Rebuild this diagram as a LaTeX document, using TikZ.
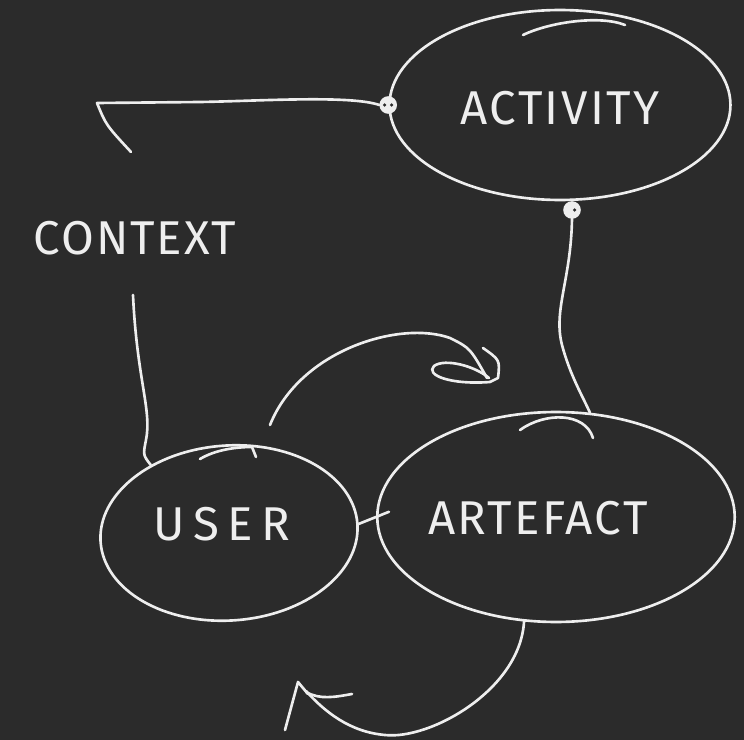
\documentclass[tikz,border=0pt]{standalone}
\usepackage{fontspec}
\setmainfont{Fira Sans}
\usepackage{xcolor}
\usepackage{tikz}
\usetikzlibrary{shapes,positioning}
\definecolor{board}{RGB}{43,43,43}
\definecolor{chalk}{RGB}{238,238,238}

\begin{document}
\begin{tikzpicture}
            [
                x=0.02cm, y=-0.02cm,
                blob/.style={ellipse, draw=chalk, line width=1.5pt, inner sep=0pt},
                stroke/.style={draw=chalk, line width=1.5pt, line cap=round, line join=round},
                knob/.style={circle, draw=chalk, fill=chalk, line width=1pt, inner sep=0pt, minimum size=9pt},
                handtext/.style={text=chalk, inner sep=0pt, font=\fontsize{27}{27}\selectfont},
            ]

            %% BOARD
            \fill[board] (0,0) rectangle (744,740);
            \useasboundingbox (0,0) rectangle (744,740);

            %% ELLIPSES
            \node[blob, minimum width=6.82cm, minimum height=3.8cm] (activity) at (560,105) {};
            \node[blob, minimum width=5.15cm, minimum height=3.5cm, rotate=4] (user) at (229,533) {};
            \node[blob, minimum width=7.15cm, minimum height=4.2cm] (artefact) at (556,517) {};

            %% second strokes over the tops
            \draw[stroke] (523,35) .. controls (550,22) and (600,15) .. (625,25);
            \draw[stroke] (200,459) .. controls (215,450) and (235,447) .. (252,447) -- (256,457);
            \draw[stroke] (520,430) .. controls (545,412) and (585,412) .. (593,438);

            %% TEXTS
            \node[handtext] (activitytext) at (560,108) {\addfontfeatures{LetterSpace=5}ACTIVITY};
            \node[handtext] (usertext) at (222,524) {\addfontfeatures{LetterSpace=18}USER};
            \node[handtext] (artefacttext) at (538,518) {\addfontfeatures{LetterSpace=5}ARTEFACT};
            \node[handtext] (context) at (135,238) {\addfontfeatures{LetterSpace=4}CONTEXT};

            %% KNOBS
            \node[knob] (knobleft) at (activity.west) {};
            \node[knob] (knobdown) at (572,210) {};
            \fill[board] ([xshift=-2pt]knobleft.center) circle (1pt) ([xshift=2pt]knobleft.center) circle (1pt);
            \fill[board] ([xshift=1.5pt]knobdown.center) circle (1pt);

            %% CONNECTORS
            \coordinate (ctxcorner) at (97,103);
            \coordinate (ctxend) at (131,152);
            \coordinate (ctxfoot) at (133,295);
            \coordinate (arrowfoot) at (270,425);

            \draw[stroke] (knobleft.west) .. controls (350,95) and (260,101) .. (200,102) -- (ctxcorner) .. controls (106,125) .. (ctxend);
            \draw[stroke] (knobdown.south) .. controls (571,280) and (553,310) .. (562,345) .. controls (570,375) and (582,395) .. (artefact.72);
            \draw[stroke] (ctxfoot) .. controls (137,380) and (152,410) .. (146,440) .. controls (143,455) .. (user.135);
            \draw[stroke, shorten >=-0.28cm] (user.east) -- (artefact.west);

            %% user -> artefact
            \draw[stroke] (arrowfoot) .. controls (300,350) and (400,320) .. (450,338) .. controls (470,348) .. (487,378);
            \draw[stroke] (490,382) .. controls (450,385) and (425,375) .. (434,366) .. controls (445,358) and (475,366) .. (489,378);
            \draw[stroke] (483,348) .. controls (500,360) .. (498,378) -- (490,382);

            %% artefact -> itself
            \draw[stroke] (artefact.253) .. controls (520,690) and (430,740) .. (385,735) .. controls (350,732) and (325,712) .. (306,691);
            \draw[stroke] (285,730) -- (298,682) -- (308,694);
            \draw[stroke] (306,692) .. controls (320,700) and (335,697) .. (352,694);

        \end{tikzpicture}
\end{document}
